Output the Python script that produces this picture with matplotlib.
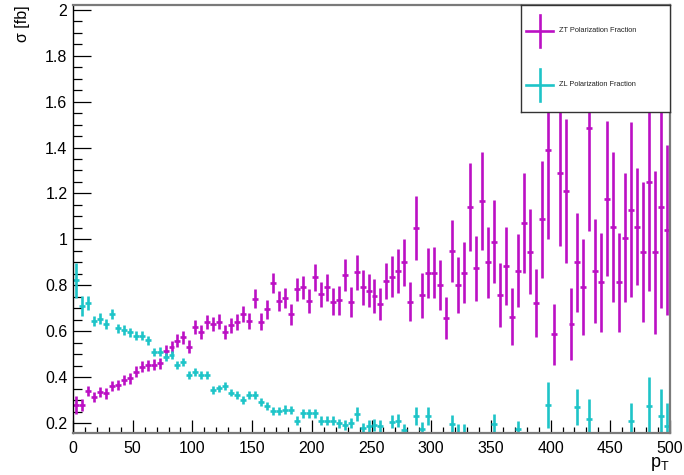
import matplotlib
matplotlib.use('Agg')
import matplotlib.pyplot as plt
from matplotlib.ticker import MultipleLocator, FuncFormatter
import numpy as np

plt.rcParams['font.family'] = ['Liberation Sans', 'DejaVu Sans']

# pT binning: 100 bins of 5 GeV from 0 to 500
bin_edges = np.arange(0, 505, 5)
bin_centers = (bin_edges[:-1] + bin_edges[1:]) / 2
bin_halfwidth = 2.5

# ZT polarization fraction per bin
zt_vals = [
    0.280, 0.280, 0.342, 0.316, 0.337, 0.330, 0.363, 0.366, 0.388, 0.396,
    0.424, 0.446, 0.453, 0.456, 0.461, 0.516, 0.533, 0.559, 0.574, 0.533,
    0.620, 0.598, 0.642, 0.632, 0.642, 0.598, 0.627, 0.642, 0.674, 0.646,
    0.743, 0.642, 0.696, 0.811, 0.732, 0.745, 0.674, 0.783, 0.791, 0.732,
    0.835, 0.761, 0.791, 0.729, 0.736, 0.845, 0.729, 0.857, 0.791, 0.777,
    0.754, 0.719, 0.819, 0.838, 0.864, 0.900, 0.729, 1.050, 0.758, 0.855,
    0.855, 0.801, 0.659, 0.950, 0.801, 0.855, 1.142, 0.874, 1.167, 0.900,
    0.990, 0.758, 0.885, 0.664, 0.864, 1.072, 0.946, 0.724, 1.088, 1.390,
    0.587, 1.291, 1.210, 0.632, 0.900, 0.794, 1.487, 0.864, 0.814, 1.178,
    1.055, 0.814, 1.007, 1.130, 1.055, 0.945, 1.250, 0.944, 1.142, 1.043,
]
zt_errs = [
    0.038, 0.025, 0.022, 0.022, 0.022, 0.022, 0.022, 0.022, 0.023, 0.023,
    0.024, 0.024, 0.024, 0.025, 0.025, 0.027, 0.027, 0.028, 0.028, 0.028,
    0.030, 0.030, 0.031, 0.031, 0.032, 0.032, 0.033, 0.034, 0.035, 0.035,
    0.040, 0.038, 0.040, 0.045, 0.042, 0.043, 0.046, 0.050, 0.052, 0.052,
    0.058, 0.054, 0.060, 0.058, 0.063, 0.068, 0.065, 0.075, 0.074, 0.072,
    0.072, 0.070, 0.080, 0.089, 0.096, 0.103, 0.085, 0.141, 0.098, 0.109,
    0.111, 0.109, 0.092, 0.135, 0.123, 0.133, 0.191, 0.140, 0.215, 0.155,
    0.181, 0.141, 0.168, 0.125, 0.158, 0.219, 0.185, 0.149, 0.254, 0.390,
    0.134, 0.319, 0.312, 0.155, 0.214, 0.210, 0.450, 0.226, 0.215, 0.336,
    0.326, 0.215, 0.280, 0.380, 0.255, 0.306, 0.475, 0.355, 0.440, 0.370,
]

# ZL polarization fraction per bin (0 where the bin falls below the plotted range)
zl_vals = [
    0.823, 0.710, 0.724, 0.646, 0.656, 0.632, 0.675, 0.613, 0.606, 0.596,
    0.581, 0.581, 0.562, 0.509, 0.512, 0.490, 0.497, 0.453, 0.468, 0.410,
    0.424, 0.410, 0.410, 0.345, 0.352, 0.362, 0.333, 0.323, 0.301, 0.323,
    0.323, 0.294, 0.275, 0.255, 0.255, 0.260, 0.258, 0.211, 0.243, 0.243,
    0.243, 0.211, 0.211, 0.211, 0.200, 0.193, 0.200, 0.240, 0.178, 0.188,
    0.193, 0.188, 0.0, 0.207, 0.211, 0.171, 0.0, 0.232, 0.174, 0.232,
    0.0, 0.0, 0.0, 0.197, 0.160, 0.160, 0.0, 0.0, 0.0, 0.0,
    0.197, 0.0, 0.0, 0.0, 0.174, 0.0, 0.0, 0.0, 0.0, 0.280,
    0.0, 0.0, 0.0, 0.0, 0.270, 0.0, 0.217, 0.0, 0.0, 0.0,
    0.0, 0.0, 0.0, 0.211, 0.0, 0.0, 0.275, 0.0, 0.232, 0.188,
]
zl_errs = [
    0.076, 0.045, 0.030, 0.022, 0.022, 0.022, 0.022, 0.020, 0.020, 0.020,
    0.020, 0.020, 0.020, 0.018, 0.018, 0.018, 0.018, 0.017, 0.017, 0.016,
    0.016, 0.016, 0.016, 0.016, 0.016, 0.016, 0.016, 0.016, 0.016, 0.018,
    0.018, 0.018, 0.018, 0.018, 0.018, 0.018, 0.018, 0.020, 0.020, 0.020,
    0.020, 0.020, 0.020, 0.020, 0.020, 0.022, 0.022, 0.030, 0.025, 0.025,
    0.025, 0.025, 0.0, 0.028, 0.028, 0.028, 0.0, 0.040, 0.030, 0.040,
    0.0, 0.0, 0.0, 0.040, 0.035, 0.035, 0.0, 0.0, 0.0, 0.0,
    0.045, 0.0, 0.0, 0.0, 0.035, 0.0, 0.0, 0.0, 0.0, 0.101,
    0.0, 0.0, 0.0, 0.0, 0.078, 0.0, 0.091, 0.0, 0.0, 0.0,
    0.0, 0.0, 0.0, 0.078, 0.0, 0.0, 0.127, 0.0, 0.117, 0.099,
]

zt_color = '#bb10c4'
zl_color = '#1ec4c8'

fig = plt.figure(figsize=(6.84, 4.75), dpi=100)
ax = fig.add_axes([73 / 684, 1 - 433 / 475, 597 / 684, 428 / 475])

ax.errorbar(bin_centers, zt_vals, xerr=bin_halfwidth, yerr=zt_errs, fmt='none',
            ecolor=zt_color, elinewidth=1.9, capsize=0)
ax.errorbar(bin_centers, zl_vals, xerr=bin_halfwidth, yerr=zl_errs, fmt='none',
            ecolor=zl_color, elinewidth=1.9, capsize=0)

ax.set_xlim(0, 500)
ax.set_ylim(0.158, 2.02)

ax.xaxis.set_major_locator(MultipleLocator(50))
ax.xaxis.set_minor_locator(MultipleLocator(10))
ax.yaxis.set_major_locator(MultipleLocator(0.2))
ax.yaxis.set_minor_locator(MultipleLocator(0.05))
ax.yaxis.set_major_formatter(FuncFormatter(lambda v, p: '%g' % round(v, 2)))

ax.tick_params(axis='both', which='both', direction='in', top=False, right=False,
               labelsize=11.5, colors='black')
ax.tick_params(axis='x', which='major', length=9.5, width=0.9, pad=6)
ax.tick_params(axis='x', which='minor', length=4.5, width=0.9)
ax.tick_params(axis='y', which='major', length=13, width=0.9, pad=4)
ax.tick_params(axis='y', which='minor', length=6.5, width=0.9)

for side in ['top', 'right', 'bottom']:
    ax.spines[side].set_color('#7a7a7a')
    ax.spines[side].set_linewidth(1.6)
ax.spines['left'].set_color('black')
ax.spines['left'].set_linewidth(1.0)

# axis titles, ROOT style at the end of each axis
fig.text(22 / 684, 1 - 5 / 475, 'σ [fb]', rotation=90, ha='center', va='top',
         fontsize=11.5)
fig.text(1 - 14 / 684, 1 - 473 / 475, r'p$_\mathregular{T}$', ha='right', va='bottom',
         fontsize=13)

# legend box
lax = fig.add_axes([521 / 684, 1 - 112 / 475, 149 / 684, 107 / 475])
lax.set_xlim(0, 149)
lax.set_ylim(107, 0)
lax.set_xticks([])
lax.set_yticks([])
for s in lax.spines.values():
    s.set_color('#333333')
    s.set_linewidth(1.0)
lax.set_facecolor('white')
entries = [('ZT Polarization Fraction', zt_color, 26),
           ('ZL Polarization Fraction', zl_color, 80)]
for label, col, yc in entries:
    lax.plot([5, 32], [yc, yc], color=col, lw=1.9)
    lax.plot([18.5, 18.5], [yc - 16, yc + 16], color=col, lw=1.9)
    lax.text(38, yc, label, fontsize=5.3, color='#222222', va='center', ha='left')

fig.savefig('out.png', dpi=100)
